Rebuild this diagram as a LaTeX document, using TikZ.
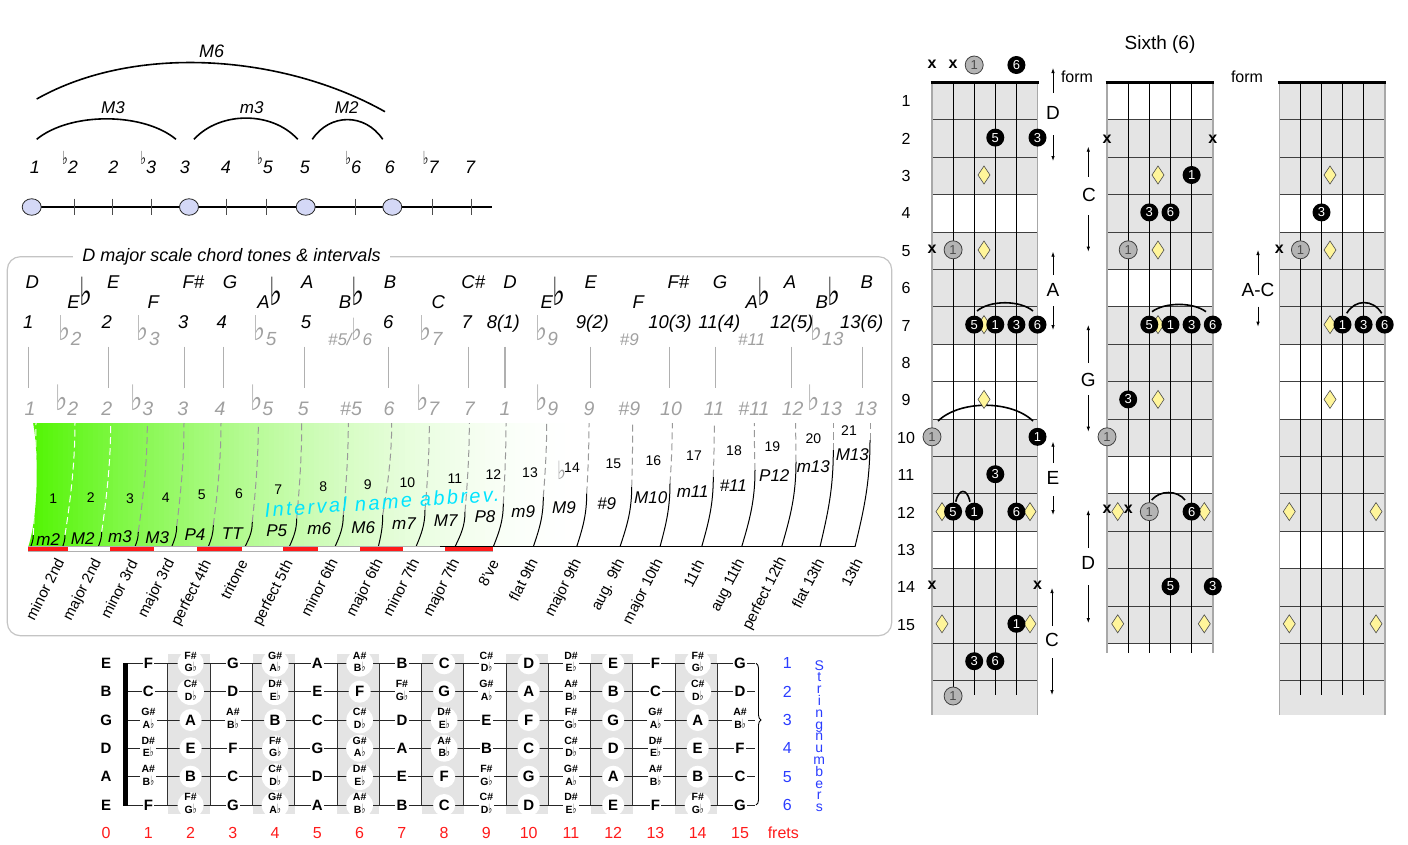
\documentclass[tikz,border=0pt]{standalone}
\usepackage{graphicx}
\usepackage{fontspec}
\setmainfont{Liberation Sans}
\newfontfamily\djv{DejaVu Sans}
\usetikzlibrary{shapes.geometric,decorations.pathreplacing,arrows.meta}
\definecolor{lav}{HTML}{D4D8F6}
\definecolor{panelc}{HTML}{C4C4C4}
\definecolor{gtxt}{HTML}{A0A0A0}
\definecolor{gln}{HTML}{B0B0B0}
\definecolor{dgray}{HTML}{999999}
\definecolor{gbase}{RGB}{80,245,0}
\definecolor{fbg}{HTML}{E4E4E4}
\definecolor{diac}{HTML}{FFF59A}
\definecolor{cgray}{HTML}{B4B4B4}
\definecolor{fred}{HTML}{FF1A1A}
\definecolor{fblue}{HTML}{2A3CFF}
\definecolor{fcyan}{HTML}{00E4FF}
\definecolor{ostr}{HTML}{A8A8A8}
\newcommand\fsz[1]{\fontsize{#1}{#1}\selectfont}
\newcommand\tfl{\raisebox{8.5pt}{\scalebox{1}[1.5]{\fsz{12}\upshape\djv ♭}}}
\newcommand\efl{\raisebox{3pt}{\scalebox{1.5}[2.1]{\upshape\djv\bfseries ♭}}}
\newcommand\gfl{\raisebox{5pt}{\scalebox{1.35}[1.8]{\upshape\djv ♭}}}
\newcommand\dnote[2]{{\fsz{10.5}\begin{tabular}{@{}c@{}}#1\#\\#2{\scalebox{1}[1.6]{\fsz{8}\djv ♭}}\end{tabular}}}
\newcommand\strrow[3]{%
  \foreach \nm [count=\c from 0] in {#3} {
    \pgfmathsetmacro\xx{106.1+42.26*\c}
    \ifnum\c=0\relax
      \node[fbn] (#1\c) at (\xx,#2) {\nm};
    \else\ifodd\c
      \node[fbn, fill=white, inner sep=1.2pt] (#1\c) at (\xx,#2) {\nm};
    \else
      \node[fbn, circle, fill=white, minimum size=22pt, inner sep=0pt] (#1\c) at (\xx,#2) {\nm};
    \fi\fi
  }}
\newcommand\blkc[4]{\node[bcirc] (#1) at (#2,#3) {#4};}
\newcommand\gryc[4]{\node[gcirc] (#1) at (#2,#3) {#4};}
\newcommand\xmark[3]{\node[xm] (#1) at (#2,#3) {x};}
\newcommand\dmnd[2]{\draw[dmds] (#1,#2) ++(0,-9) -- ++(6,9) -- ++(-6,9) -- ++(-6,-9) -- cycle;}

\begin{document}
\begin{tikzpicture}[x=1pt,y=-1pt,
  tick/.style={line width=1, draw=black!70},
  pt/.style={ellipse, draw=black!85, fill=lav, minimum width=19pt, minimum height=16.5pt, inner sep=0pt, line width=0.8},
  tl/.style={font=\itshape\fsz{18}, inner sep=0pt},
  arcl/.style={line width=1.6},
  r1/.style={font=\itshape\fsz{18.5}, inner sep=0pt},
  r4/.style={font=\itshape\fsz{19}, text=gtxt, inner sep=0pt},
  r5/.style={font=\itshape\fsz{19.5}, text=gtxt, inner sep=0pt},
  semi/.style={font=\fsz{14}, inner sep=0pt},
  abbr/.style={font=\itshape\fsz{17}, inner sep=0pt},
  rot/.style={font=\fsz{15}, rotate=63, anchor=north east, inner sep=0pt},
  fbn/.style={font=\bfseries\fsz{15}, inner sep=0pt},
  fret/.style={line width=0.8, draw=black!75},
  bcirc/.style={circle, fill=black, text=white, minimum size=18pt, inner sep=0pt, font=\fsz{13}},
  gcirc/.style={circle, fill=cgray, draw=black!75, line width=0.8, text=black!70, minimum size=18pt, inner sep=0pt, font=\fsz{13}},
  xm/.style={font=\bfseries\fsz{16}, inner sep=0pt},
  dmds/.style={fill=diac, draw=black!70, line width=0.6},
  ar/.style={-{Latex[length=5pt,width=3.5pt]}, line width=0.8},
  big/.style={font=\fsz{19}, inner sep=0pt}
]
\useasboundingbox (0,0) rectangle (1408,844);

%% ---------------- top-left interval line ----------------
\draw[line width=1.5] (31.7,207) -- (491.7,207);
\foreach \x in {74,112.7,151.7,226.7,266.7,355.3,432,471} \draw[tick] (\x,198.5) -- (\x,215);
\foreach \x [count=\i] in {31.7,189,305.7,392.3} \node[pt] (p\i) at (\x,207) {};
\foreach \x/\tx [count=\i] in {35/1, 70/\tfl2, 113.3/2, 148.3/\tfl3, 185/3, 226/4, 265/\tfl5, 305/5, 353.3/\tfl6, 390/6, 430.7/\tfl7, 470/7}
  \node[tl, anchor=base] (d\i) at (\x,173) {\tx};
\draw[arcl] (36.7,139.3) .. controls (70,112) and (143,112) .. (176,139.3);
\draw[arcl] (194,139.3) .. controls (220,111) and (272,111) .. (297.7,139.3);
\draw[arcl] (312.3,139.3) .. controls (330,113) and (365,113) .. (382.7,139.3);
\draw[arcl] (36.7,99) .. controls (136.7,42.6) and (285,55.3) .. (385,111.7);
\node[font=\itshape\fsz{17}] (lM3) at (113,108) {M3};
\node[font=\itshape\fsz{17}] (lm3) at (251.7,108) {m3};
\node[font=\itshape\fsz{17}] (lM2) at (346.7,108) {M2};
\node[font=\itshape\fsz{18}] (lM6) at (211.7,51) {M6};

%% ---------------- middle panel ----------------
\draw[panelc, line width=1.2, rounded corners=13pt] (7.3,256.7) rectangle (891.7,635.7);
\node[fill=white, inner xsep=9pt, inner ysep=2pt, font=\itshape\fsz{18}] (title) at (231.5,257) {D major scale chord tones \& intervals};

\foreach \x/\tx [count=\i] in {32.3/D, 113.3/E, 193.3/F\#, 230/G, 307.3/A, 390/B, 473.3/C\#, 510/D, 590.7/E, 678.3/F\#, 720/G, 790/A, 866.7/B}
  \node[r1, anchor=base] (na\i) at (\x,288.5) {\tx};
\foreach \x/\tx [count=\i] in {80/E\efl, 153.3/F, 270/A\efl, 351.7/B\efl, 438.3/C, 553.3/E\efl, 638.3/F, 758.3/A\efl, 828.3/B\efl}
  \node[r1, anchor=base] (nb\i) at (\x,308.5) {\tx};
\foreach \x/\tx [count=\i] in {28.3/1, 106.7/2, 183.3/3, 221.7/4, 306/5, 388.3/6, 466.7/7, 503.3/8(1), 592.3/9(2), 670/10(3), 719.3/11(4), 791.7/12(5), 861.7/13(6)}
  \node[r1, anchor=base] (dg\i) at (\x,328.5) {\tx};
\foreach \x/\tx [count=\i] in {70/\gfl2, 148.3/\gfl3, 265/\gfl5, 431/\gfl7, 546.7/\gfl9, 826.7/\gfl13}
  \node[r4, anchor=base] (al\i) at (\x,345.5) {\tx};
\node[r4, font=\itshape\fsz{17}, anchor=base] (al7) at (350,345.5) {\#5/\gfl6};
\node[r4, font=\itshape\fsz{17}, anchor=base] (al8) at (629.3,345.5) {\#9};
\node[r4, font=\itshape\fsz{17}, anchor=base] (al9) at (751.7,345.5) {\#11};
\foreach \x in {28.3,108.3,184.3,223.3,304.3,388.3,468.3,505,590.7,669.3,715.3,791.7,862.7}
  \draw[gln, line width=1.2] (\x,346.7) -- (\x,388.3);
\foreach \x/\tx [count=\i] in {30/1, 66.7/\gfl2, 106.7/2, 141.7/\gfl3, 182.7/3, 220/4, 261.7/\gfl5, 303.3/5, 351/\#5, 389/6, 427.7/\gfl7, 469.3/7, 505/1, 546.7/\gfl9, 589/9, 629.3/\#9, 671/10, 714/11, 754/\#11, 792.7/12, 825/\gfl13, 866/13}
  \node[r5, anchor=base] (sd\i) at (\x,415.5) {\tx};

% green gradient
\begin{scope}
\clip (33.3,423) -- (580,423) -- (580,546.7) -- (28.3,546.7) .. controls (38.5,515) and (38.5,455) .. (33.3,423) -- cycle;
\foreach \i in {0,...,109} {
  \pgfmathsetmacro\pp{100*(1-(\i+0.5)/110)^1.7}
  \fill[gbase!\pp!white] ({28+5.02*\i},420) rectangle ({28+5.02*(\i+1)+0.6},550);
}
\end{scope}

% separators
\foreach \xb/\xm/\ym/\xd/\dc in {30.7/33.3/535/36/white, 62.7/65/535/75/white, 98.3/101.7/531.7/110.7/white, 135/138.3/531.7/147.3/dgray, 171.7/176.7/526/184/dgray, 208.3/213.3/525/221/dgray, 245/252.3/521.7/258.3/dgray, 289.3/296.7/518.3/301.7/dgray, 335/343.3/515/348.3/dgray, 378.3/382.7/515/391.7/dgray, 416/425/510/429.3/dgray, 455/465/511.7/469.3/dgray, 493.3/503.3/503.3/506/dgray, 533.3/543.3/496.7/546.7/dgray, 576.7/586.7/493.3/589/dgray, 620/631.7/486.7/632.7/dgray, 660/670/483.3/672.3/dgray, 701.7/713.3/476.7/714.3/dgray, 741.7/755/470/754.3/dgray, 781.7/796/461.7/795.7/dgray, 820/833.3/450/833.3/dgray, 855/870/440/870/dgray} {
  \draw[line width=1] (\xb,546.7) .. controls ({\xb+0.6*(\xm-\xb)},{546.7-0.35*(546.7-\ym)}) and (\xm,{\ym+0.4*(546.7-\ym)}) .. (\xm,\ym);
  \draw[\dc, line width=1, dash pattern=on 7pt off 4pt] (\xm,\ym) .. controls ({\xm+0.7*(\xd-\xm)},{\ym-0.4*(\ym-423)}) and (\xd,{423+0.3*(\ym-423)}) .. (\xd,423);
}
% bottom bar
\draw[gln, fill=white, line width=0.6] (28.3,546.7) rectangle (492.7,551.3);
\foreach \a/\b in {28.3/68.3, 110/154.3, 196.7/241.7, 283.3/318.3, 360/402.7, 445/492.7}
  \fill[fred] (\a,546.7) rectangle (\b,551.3);
\draw[line width=1] (440,546.7) -- (855,546.7);

% semitone numbers
\foreach \x/\y/\tx [count=\i] in {53.3/498.3/1, 90.7/497.3/2, 130/498.3/3, 165.7/497.3/4, 201.7/495/5, 239/493.3/6, 278.3/490/7, 323.3/486.7/8, 367.7/485/9, 407.3/482.7/10, 455/478.3/11, 493.3/475/12, 530/472.7/13, 572/467.7/14, 613.3/464/15, 653.3/460.7/16, 694/456/17, 734/450.7/18, 772.3/446.7/19, 813.3/439/20, 849/430.7/21}
  \node[semi] (st\i) at (\x,\y) {\tx};
\node[text=gtxt, inner sep=0pt] (fl14) at (561.7,470) {\scalebox{1.35}[1.8]{\fsz{14}\djv ♭}};
% abbreviations
\foreach \x/\y/\tx [count=\i] in {48.3/540/m2, 82.7/539/M2, 120/536.7/m3, 157.3/537.7/M3, 195/535/P4, 232.3/533.3/TT, 276.7/531/P5, 319.3/528.3/m6, 363.3/527.3/M6, 404/523.3/m7, 445.7/521/M7, 485/516.7/P8, 523.3/511.7/m9, 564/507.7/M9, 606.7/503.3/\#9, 650.7/497.3/M10, 692.7/491.7/m11, 733.3/486/\#11, 774.3/475.7/P12, 813.3/466.7/m13, 852.3/454.3/M13}
  \node[abbr] (ab\i) at (\x,\y) {\tx};
\node[rotate=4, text=fcyan, font=\itshape\fsz{20}\addfontfeature{LetterSpace=12}, inner sep=0pt] (iname) at (382,502) {Interval name abbrev.};
% rotated names
\foreach \x/\y/\tx [count=\i] in {55/556.7/minor 2nd, 91.7/556.7/major 2nd, 128.3/558.3/minor 3rd, 165/556.7/major 3rd, 201.7/558.3/perfect 4th, 238.3/558.3/tritone, 283.3/558.3/perfect 5th, 328.3/556.7/minor 6th, 373.3/556.7/major 6th, 410/556.7/minor 7th, 450/556.7/major 7th, 490/558.3/8've, 528.3/556.7/flat 9th, 571.7/556.7/major 9th, 615/556.7/aug. 9th, 653.3/556.7/major 10th, 695/558.3/11th, 735/556.7/aug 11th, 776.7/555/perfect 12th, 815/556.7/flat 13th, 853.3/556.7/13th}
  \node[rot] (rn\i) at (\x,\y) {\tx};

%% ---------------- bottom fretboard ----------------
\foreach \n in {2,4,...,14}
  \fill[fbg] ({106.1+42.26*(\n-0.5)-1.5},654) rectangle ({106.1+42.26*(\n+0.5)-1.5},814);
\foreach \n in {1,...,14}
  \draw[line width=1, draw=black!80] ({106.1+42.26*(\n+0.5)-1.5},663.3) -- ({106.1+42.26*(\n+0.5)-1.5},805);
\foreach \y in {663.3,691.7,720,748.3,776.7,805}
  \draw[line width=1, draw=black!85] (128.3,\y) -- (755,\y);
\fill (123.3,662.7) rectangle (128.3,805.5);
\strrow{sa}{663.3}{E,F,\dnote{F}{G},G,\dnote{G}{A},A,\dnote{A}{B},B,C,\dnote{C}{D},D,\dnote{D}{E},E,F,\dnote{F}{G},G}
\strrow{sb}{691.7}{B,C,\dnote{C}{D},D,\dnote{D}{E},E,F,\dnote{F}{G},G,\dnote{G}{A},A,\dnote{A}{B},B,C,\dnote{C}{D},D}
\strrow{sc}{720}{G,\dnote{G}{A},A,\dnote{A}{B},B,C,\dnote{C}{D},D,\dnote{D}{E},E,F,\dnote{F}{G},G,\dnote{G}{A},A,\dnote{A}{B}}
\strrow{sd}{748.3}{D,\dnote{D}{E},E,F,\dnote{F}{G},G,\dnote{G}{A},A,\dnote{A}{B},B,C,\dnote{C}{D},D,\dnote{D}{E},E,F}
\strrow{se}{776.7}{A,\dnote{A}{B},B,C,\dnote{C}{D},D,\dnote{D}{E},E,F,\dnote{F}{G},G,\dnote{G}{A},A,\dnote{A}{B},B,C}
\strrow{sf}{805}{E,F,\dnote{F}{G},G,\dnote{G}{A},A,\dnote{A}{B},B,C,\dnote{C}{D},D,\dnote{D}{E},E,F,\dnote{F}{G},G}
\draw[decorate, decoration={brace, amplitude=5pt, aspect=0.4}, line width=0.9] (756,663.3) -- (756,805);
\foreach \n in {0,...,15}
  \node[font=\fsz{16}, text=fred] (fn\n) at ({106.1+42.26*\n},832.7) {\n};
\node[font=\fsz{16}, text=fred] (frets) at (783.3,832.7) {frets};
\foreach \y [count=\i] in {663.3,691.7,720,748.3,776.7,805}
  \node[font=\fsz{16}, text=fblue] (sn\i) at (787.3,\y) {\i};
\foreach \l [count=\i from 0] in {S,t,r,i,n,g,n,u,m,b,e,r,s}
  \node[font=\fsz{14}, text=fblue, anchor=base, inner sep=0pt] (vl\i) at (819.3,{670+11.8*\i}) {\l};

%% ---------------- right fretboards ----------------
\node[font=\fsz{19}] (sixth) at (1160,45) {Sixth (6)};
% fb1
\foreach \a/\b in {82.3/194.5, 231.9/344.1, 418.9/531.1, 568.5/715}
  \fill[fbg] (932,\a) rectangle (1037.5,\b);
\foreach \n in {1,...,16} \draw[fret] (932,{82.3+37.4*\n}) -- (1037.5,{82.3+37.4*\n});
\foreach \x in {953.1,974.2,995.3,1016.4} \draw[line width=0.9] (\x,82.3) -- (\x,695);
\foreach \x in {932,1037.5} \draw[ostr, line width=1.6] (\x,82.3) -- (\x,715);
\draw[line width=2.6] (930.5,82.3) -- (1039,82.3);
% fb2
\foreach \a/\b in {119.7/269.3, 306.7/456.3, 493.7/643.3}
  \fill[fbg] (1107,\a) rectangle (1212.8,\b);
\foreach \n in {1,...,15} \draw[fret] (1107,{82.3+37.4*\n}) -- (1212.8,{82.3+37.4*\n});
\foreach \x in {1128.2,1149.3,1170.5,1191.6} \draw[line width=0.9] (\x,82.3) -- (\x,653);
\foreach \x in {1107,1212.8} \draw[ostr, line width=1.6] (\x,82.3) -- (\x,653);
\draw[line width=2.6] (1105.5,82.3) -- (1214.3,82.3);
% fb3
\foreach \a/\b in {82.3/194.5, 231.9/344.1, 418.9/531.1, 568.5/715}
  \fill[fbg] (1279.3,\a) rectangle (1384.7,\b);
\foreach \n in {1,...,16} \draw[fret] (1279.3,{82.3+37.4*\n}) -- (1384.7,{82.3+37.4*\n});
\foreach \x in {1300.4,1321.5,1342.5,1363.6} \draw[line width=0.9] (\x,82.3) -- (\x,695);
\foreach \x in {1279.3,1384.7} \draw[ostr, line width=1.6] (\x,82.3) -- (\x,715);
\draw[line width=2.6] (1277.8,82.3) -- (1386.2,82.3);
% fret numbers
\foreach \n in {1,...,15} \node[font=\fsz{16}] (rf\n) at (906,{82.5+37.4*(\n-0.5)}) {\n};
% arcs
\draw[arcl] (977,311) .. controls (990,300) and (1020,300) .. (1033,311);
\draw[arcl] (938,421) .. controls (960,400) and (1011,400) .. (1033,421);
\draw[arcl] (955.7,501.7) .. controls (959,488) and (967,488) .. (970,501.7);
\draw[arcl] (1152,311.7) .. controls (1165,302) and (1193,302) .. (1206,311.7);
\draw[arcl] (1151.7,500) .. controls (1160,490) and (1177,490) .. (1185,500);
\draw[arcl] (1346.7,313.3) .. controls (1355,299) and (1373,299) .. (1381.7,313.3);
% diamonds
\dmnd{984}{175} \dmnd{984}{250} \dmnd{984}{324.6} \dmnd{984}{399.4}
\dmnd{942}{511.6} \dmnd{1030}{511.6} \dmnd{942}{623.8} \dmnd{1030}{623.8}
\dmnd{1158}{175} \dmnd{1158}{250} \dmnd{1158}{324.6} \dmnd{1158}{399.4}
\dmnd{1117.7}{511.6} \dmnd{1204.3}{511.6} \dmnd{1117.7}{623.8} \dmnd{1204.3}{623.8}
\dmnd{1330}{175} \dmnd{1330}{250} \dmnd{1330}{324.6} \dmnd{1330}{399.4}
\dmnd{1289.3}{511.6} \dmnd{1376}{511.6} \dmnd{1289.3}{623.8} \dmnd{1376}{623.8}
% fb1 marks
\xmark{a1}{932}{64} \xmark{a2}{953.1}{64} \gryc{a3}{974.2}{65}{1} \blkc{a4}{1016.4}{65}{6}
\blkc{a5}{995.3}{137.6}{5} \blkc{a6}{1037.5}{137.6}{3}
\xmark{a7}{932}{248.8} \gryc{a8}{953.1}{249.8}{1}
\blkc{a9}{974.2}{324.6}{5} \blkc{a10}{995.3}{324.6}{1} \blkc{a11}{1016.4}{324.6}{3} \blkc{a12}{1037.5}{324.6}{6}
\gryc{a13}{932}{436.8}{1} \blkc{a14}{1037.5}{436.8}{1}
\blkc{a15}{995.3}{474.2}{3}
\blkc{a16}{953.1}{511.6}{5} \blkc{a17}{974.2}{511.6}{1} \blkc{a18}{1016.4}{511.6}{6}
\xmark{a19}{932}{585.4} \xmark{a20}{1037.5}{585.4}
\blkc{a21}{1016.4}{623.8}{1}
\blkc{a22}{974.2}{661.2}{3} \blkc{a23}{995.3}{661.2}{6}
\gryc{a24}{953.1}{696}{1}
% fb2 marks
\xmark{b1}{1107}{139} \xmark{b2}{1212.8}{139}
\blkc{b3}{1191.6}{175}{1}
\blkc{b4}{1149.3}{212.4}{3} \blkc{b5}{1170.5}{212.4}{6}
\gryc{b6}{1128.2}{249.8}{1}
\blkc{b7}{1149.3}{324.6}{5} \blkc{b8}{1170.5}{324.6}{1} \blkc{b9}{1191.6}{324.6}{3} \blkc{b10}{1212.8}{324.6}{6}
\blkc{b11}{1128.2}{399.4}{3}
\gryc{b12}{1107}{436.8}{1}
\xmark{b13}{1107}{509} \xmark{b14}{1128.2}{509} \gryc{b15}{1149.3}{511.6}{1} \blkc{b16}{1191.6}{511.6}{6}
\blkc{b17}{1170.5}{586.4}{5} \blkc{b18}{1212.8}{586.4}{3}
% fb3 marks
\blkc{c1}{1321.5}{212.4}{3}
\xmark{c2}{1279.3}{248.8} \gryc{c3}{1300.4}{249.8}{1}
\blkc{c4}{1342.5}{324.6}{1} \blkc{c5}{1363.6}{324.6}{3} \blkc{c6}{1384.7}{324.6}{6}
% form labels and arrows
\node[font=\fsz{16}] (form1) at (1077,77) {form};
\node[font=\fsz{16}] (form2) at (1247,77) {form};
\node[big] (lD1) at (1053,113) {D};
\draw[ar] (1053,93) -- (1053,68);  \draw[ar] (1053,135) -- (1053,161);
\node[big] (lA1) at (1053,290) {A};
\draw[ar] (1053,275) -- (1053,251.7);  \draw[ar] (1053,306) -- (1053,330);
\node[big] (lE1) at (1053,478) {E};
\draw[ar] (1053,463) -- (1053,441.7);  \draw[ar] (1053,496) -- (1053,515);
\node[big] (lC1) at (1052,640) {C};
\draw[ar] (1052,626) -- (1052,588);  \draw[ar] (1052,658) -- (1052,695);
\node[big] (lC2) at (1089,195) {C};
\draw[ar] (1088.3,176.7) -- (1088.3,146.7);  \draw[ar] (1088.3,215) -- (1088.3,251.7);
\node[big] (lG2) at (1088.3,380) {G};
\draw[ar] (1088.3,363) -- (1088.3,325);  \draw[ar] (1088.3,395) -- (1088.3,431.7);
\node[big] (lD2) at (1088.3,563) {D};
\draw[ar] (1088.3,548) -- (1088.3,510);  \draw[ar] (1088.3,585) -- (1088.3,623);
\node[big] (lAC) at (1258,290) {A-C};
\draw[ar] (1258,275) -- (1258,250);  \draw[ar] (1258,306.7) -- (1258,326.7);
\end{tikzpicture}
\end{document}
